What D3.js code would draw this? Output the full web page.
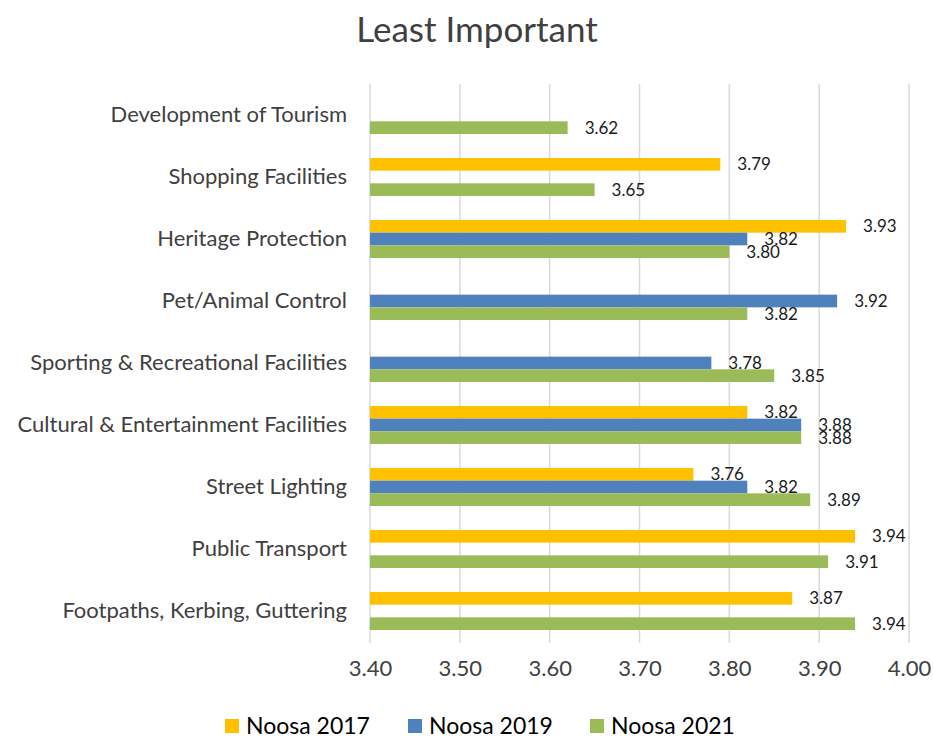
<!DOCTYPE html>
<html>
<head>
<meta charset="utf-8">
<script src="https://cdn.jsdelivr.net/npm/d3@7"></script>
<style>
  body { margin: 0; background: #fff; }
  svg text { font-family: "Lato", "Open Sans", sans-serif; }
</style>
</head>
<body>
<div id="chart"></div>
<script>
// カテゴリ（上から順）
var categories = [
    "Development of Tourism",
    "Shopping Facilities",
    "Heritage Protection",
    "Pet/Animal Control",
    "Sporting & Recreational Facilities",
    "Cultural & Entertainment Facilities",
    "Street Lighting",
    "Public Transport",
    "Footpaths, Kerbing, Guttering"
];
var seriesNames = ["Noosa 2017", "Noosa 2019", "Noosa 2021"];
// null = no data
var noosa2017 = [null, 3.79, 3.93, null, null, 3.82, 3.76, 3.94, 3.87];
var noosa2019 = [null, null, 3.82, 3.92, 3.78, 3.88, 3.82, null, null];
var noosa2021 = [3.62, 3.65, 3.80, 3.82, 3.85, 3.88, 3.89, 3.91, 3.94];
var tickValues = [3.40, 3.50, 3.60, 3.70, 3.80, 3.90, 4.00];
var colors = ["#FFC000", "#4F81BD", "#9BBB59"];

var width = 933;
var height = 740;
var textColor = "#404040";

var svg = d3.select("#chart")
    .append("svg")
    .attr("width", width)
    .attr("height", height);

// タイトル
svg.append("text")
    .text("Least Important")
    .attr("x", 477)
    .attr("y", 42)
    .attr("text-anchor", "middle")
    .style("font-size", "35px")
    .style("fill", textColor);

// スケール
var xScale = d3.scaleLinear()
    .domain([3.40, 4.00])
    .range([370, 909]);

var yScale = d3.scaleBand()
    .domain(categories)
    .range([84, 642])
    .paddingInner(0.387)
    .paddingOuter(0.1935);

var sScale = d3.scaleBand()
    .domain(seriesNames)
    .range([0, yScale.bandwidth()]);

// グリッド線
svg.append("g")
    .selectAll("line")
    .data(tickValues)
    .enter()
    .append("line")
    .attr("x1", function (d) { return xScale(d); })
    .attr("x2", function (d) { return xScale(d); })
    .attr("y1", 84)
    .attr("y2", 643)
    .attr("stroke", "#D9D9D9")
    .attr("stroke-width", 1.5);

// X 軸
var xAxis = d3.axisBottom(xScale)
    .tickValues(tickValues)
    .tickFormat(d3.format(".2f"))
    .tickSize(0)
    .tickPadding(0);

var gx = svg.append("g")
    .attr("transform", "translate(0,659)")
    .call(xAxis);
gx.select(".domain").remove();
gx.selectAll("text")
    .style("font-size", "22px")
    .style("fill", textColor)
    .attr("dy", "0.75em");

// Y 軸（カテゴリ名）
var yAxis = d3.axisLeft(yScale)
    .tickSize(0)
    .tickPadding(0);
var gy = svg.append("g")
    .attr("transform", "translate(347,0)")
    .call(yAxis);
gy.select(".domain").remove();
gy.selectAll("text")
    .style("font-size", "22px")
    .style("fill", textColor)
    .attr("y", 0);

// 棒グラフ
var allSeries = [noosa2017, noosa2019, noosa2021];
var rows = [];
for (var s = 0; s < allSeries.length; s++) {
    for (var i = 0; i < categories.length; i++) {
        if (allSeries[s][i] == null) continue;
        rows.push({ cat: categories[i], series: seriesNames[s], s: s, value: allSeries[s][i] });
    }
}

svg.append("g")
    .selectAll("rect")
    .data(rows)
    .enter()
    .append("rect")
    .attr("x", xScale(3.40))
    .attr("y", function (d) { return yScale(d.cat) + sScale(d.series); })
    .attr("width", function (d) { return xScale(d.value) - xScale(3.40); })
    .attr("height", sScale.bandwidth())
    .attr("fill", function (d) { return colors[d.s]; });

// データラベル
svg.append("g")
    .selectAll("text")
    .data(rows)
    .enter()
    .append("text")
    .text(function (d) { return d3.format(".2f")(d.value); })
    .attr("x", function (d) { return xScale(d.value) + 17; })
    .attr("y", function (d) { return yScale(d.cat) + sScale(d.series) + sScale.bandwidth() / 2; })
    .attr("dy", "0.36em")
    .style("font-size", "17px")
    .style("fill", "#1a1a1a");

// 凡例
var legendX = [225, 408, 590];
var legend = svg.append("g")
    .selectAll("g")
    .data(seriesNames)
    .enter()
    .append("g")
    .attr("transform", function (d, i) { return "translate(" + legendX[i] + ",719)"; });
legend.append("rect")
    .attr("width", 14)
    .attr("height", 14)
    .attr("fill", function (d, i) { return colors[i]; });
legend.append("text")
    .text(function (d) { return d; })
    .attr("x", 21)
    .attr("y", 7)
    .attr("dy", "0.36em")
    .style("font-size", "23px")
    .style("fill", "#000");
</script>
</body>
</html>
